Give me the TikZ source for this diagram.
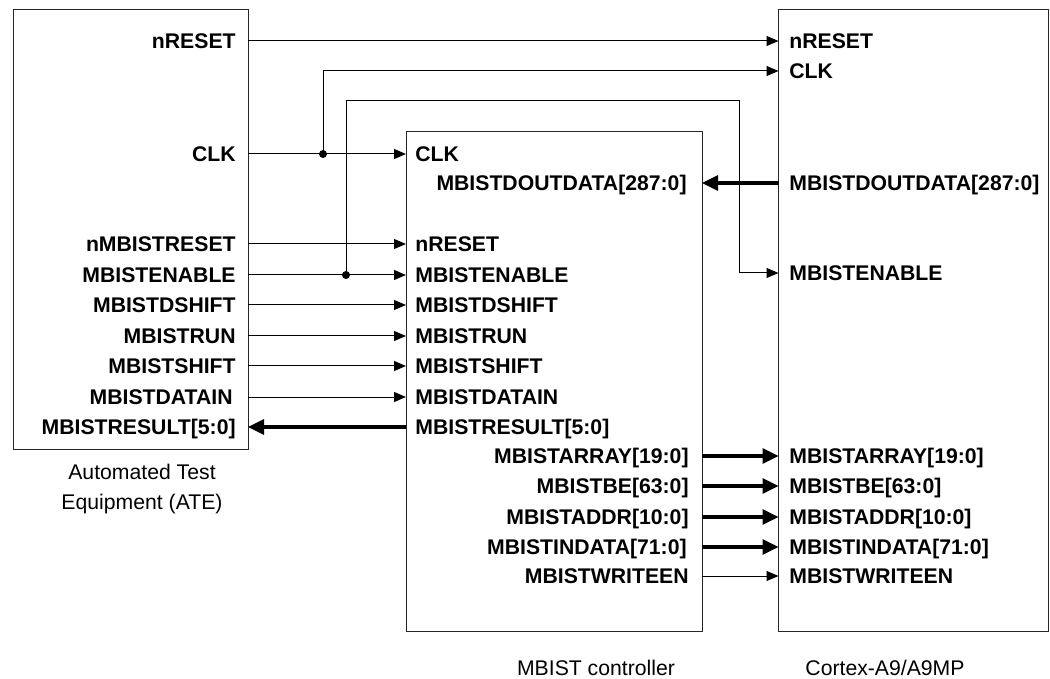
\documentclass[tikz,border=0pt]{standalone}
\usepackage{fontspec}
\setmainfont{Liberation Sans}
\usetikzlibrary{arrows.meta}

\tikzset{
  blk/.style={draw=black!85, line width=0.5pt, inner sep=0pt, outer sep=0pt},
  port/.style={font=\fontsize{10.6}{12}\selectfont\bfseries, inner sep=0pt, text height=7.6pt, text depth=0pt},
  portl/.style={port, anchor=west},
  portr/.style={port, anchor=east},
  blkname/.style={font=\fontsize{10.6}{15}\selectfont, align=center},
  sig/.style={line width=0.5pt, -{Triangle[length=6pt, width=5pt]}},
  bus/.style={line width=1.6pt, -{Triangle[length=8pt, width=7.5pt]}},
  jdot/.style={circle, fill, inner sep=0pt, minimum size=4pt},
}

\begin{document}
\begin{tikzpicture}[x=0.5pt, y=-0.5pt]
\useasboundingbox (0,0) rectangle (1050,679);

% blocks
\node[blk, minimum width=117.5pt, minimum height=219.5pt] (ate) at (130.5,229.5) {};
\node[blk, minimum width=148pt, minimum height=249.5pt] (ctl) at (554,381.5) {};
\node[blk, minimum width=135pt, minimum height=310.5pt] (cpu) at (913.5,320.5) {};

\node[blkname] (atename) at (142,489) {Automated Test\\Equipment (ATE)};
\node[blkname] (ctlname) at (596,668) {MBIST controller};
\node[blkname] (cpuname) at (885,668) {Cortex-A9/A9MP};

% ATE ports
\node[portr] (ate-nrst) at (236,41)  {nRESET};
\node[portr] (ate-clk)  at (236,154) {CLK};
\node[portr] (ate-mrst) at (236,244) {nMBISTRESET};
\node[portr] (ate-men)  at (236,275) {MBISTENABLE};
\node[portr] (ate-dsh)  at (236,305) {MBISTDSHIFT};
\node[portr] (ate-run)  at (236,336) {MBISTRUN};
\node[portr] (ate-sh)   at (236,366) {MBISTSHIFT};
\node[portr] (ate-din)  at (233,397) {MBISTDATAIN};
\node[portr] (ate-res)  at (236,427) {MBISTRESULT[5:0]};

% controller ports
\node[portl] (ctl-clk)  at (415,154) {CLK};
\node[portr] (ctl-dout) at (687,183) {MBISTDOUTDATA[287:0]};
\node[portl] (ctl-nrst) at (415,244) {nRESET};
\node[portl] (ctl-men)  at (415,275) {MBISTENABLE};
\node[portl] (ctl-dsh)  at (415,305) {MBISTDSHIFT};
\node[portl] (ctl-run)  at (415,336) {MBISTRUN};
\node[portl] (ctl-sh)   at (415,366) {MBISTSHIFT};
\node[portl] (ctl-din)  at (415,397) {MBISTDATAIN};
\node[portl] (ctl-res)  at (415,427) {MBISTRESULT[5:0]};
\node[portr] (ctl-arr)  at (689,456) {MBISTARRAY[19:0]};
\node[portr] (ctl-be)   at (689,486) {MBISTBE[63:0]};
\node[portr] (ctl-addr) at (689,517) {MBISTADDR[10:0]};
\node[portr] (ctl-ind)  at (687,547) {MBISTINDATA[71:0]};
\node[portr] (ctl-wen)  at (689,576) {MBISTWRITEEN};

% Cortex ports
\node[portl] (cpu-nrst) at (789,41)  {nRESET};
\node[portl] (cpu-clk)  at (789,71)  {CLK};
\node[portl] (cpu-dout) at (789,183) {MBISTDOUTDATA[287:0]};
\node[portl] (cpu-men)  at (789,273) {MBISTENABLE};
\node[portl] (cpu-arr)  at (789,456) {MBISTARRAY[19:0]};
\node[portl] (cpu-be)   at (789,486) {MBISTBE[63:0]};
\node[portl] (cpu-addr) at (789,517) {MBISTADDR[10:0]};
\node[portl] (cpu-ind)  at (789,547) {MBISTINDATA[71:0]};
\node[portl] (cpu-wen)  at (789,576) {MBISTWRITEEN};

% junctions
\coordinate (j1) at (323,154);
\coordinate (j2) at (346,275);
\coordinate (k1) at (739,101);

% ATE to controller and core
\draw[sig] (ate.east |- ate-nrst) -- (cpu.west |- cpu-nrst);
\draw[sig] (ate.east |- ate-clk) -- (ctl.west |- ctl-clk);
\draw[sig] (j1) |- (cpu.west |- cpu-clk);
\draw[sig] (ate.east |- ate-mrst) -- (ctl.west |- ctl-nrst);
\draw[sig] (ate.east |- ate-men) -- (ctl.west |- ctl-men);
\draw[sig] (j2) |- (k1) |- (cpu.west |- cpu-men);
\draw[sig] (ate.east |- ate-dsh) -- (ctl.west |- ctl-dsh);
\draw[sig] (ate.east |- ate-run) -- (ctl.west |- ctl-run);
\draw[sig] (ate.east |- ate-sh) -- (ctl.west |- ctl-sh);
\draw[sig] (ate.east |- ate-din) -- (ctl.west |- ctl-din);
\draw[bus] (ctl.west |- ctl-res) -- (ate.east |- ate-res);
\node[jdot] (d1) at (j1) {};
\node[jdot] (d2) at (j2) {};

% controller to core
\draw[bus] (cpu.west |- cpu-dout) -- (ctl.east |- ctl-dout);
\draw[bus] (ctl.east |- ctl-arr) -- (cpu.west |- cpu-arr);
\draw[bus] (ctl.east |- ctl-be) -- (cpu.west |- cpu-be);
\draw[bus] (ctl.east |- ctl-addr) -- (cpu.west |- cpu-addr);
\draw[bus] (ctl.east |- ctl-ind) -- (cpu.west |- cpu-ind);
\draw[sig] (ctl.east |- ctl-wen) -- (cpu.west |- cpu-wen);
\end{tikzpicture}
\end{document}
